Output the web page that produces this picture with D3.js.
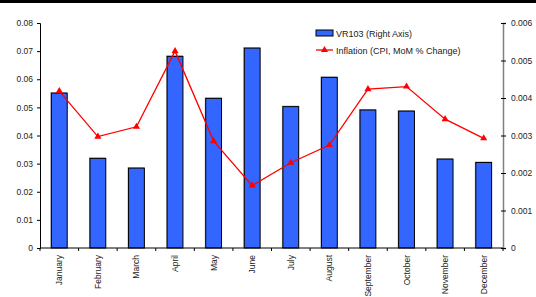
<!DOCTYPE html>
<html lang="en">
<head>
    <meta charset="UTF-8">
    <title>VR103 vs Inflation</title>
    <style>
        body { margin: 0; background: #fff; }
        svg text { font-family: "Liberation Sans", Arial, sans-serif; fill: #222; }
    </style>
</head>
<body>
    <script src="https://d3js.org/d3.v7.min.js"></script>
    <script>
// data
const months = ["January", "February", "March", "April", "May", "June",
    "July", "August", "September", "October", "November", "December"];
const vr103 = [0.00413, 0.00239, 0.00213, 0.00511, 0.00399, 0.00533,
    0.00377, 0.00455, 0.00368, 0.00365, 0.00237, 0.00228];
const inflation = [0.0558, 0.0396, 0.0431, 0.0700, 0.0380, 0.0222,
    0.0303, 0.0366, 0.0565, 0.0574, 0.0458, 0.0390];
const leftTicks = [0, 0.01, 0.02, 0.03, 0.04, 0.05, 0.06, 0.07, 0.08];
const rightTicks = [0, 0.001, 0.002, 0.003, 0.004, 0.005, 0.006];

const width = 536, height = 297;
const margin = {top: 23, right: 33, bottom: 49, left: 40};

const svg = d3.select("body").append("svg")
    .attr("width", width)
    .attr("height", height);

// black band across the top
svg.append("rect")
    .attr("x", 0).attr("y", 0)
    .attr("width", width).attr("height", 3)
    .attr("fill", "#000");

const x = d3.scaleBand()
    .domain(months)
    .range([margin.left, width - margin.right]);

const yLeft = d3.scaleLinear()
    .domain([0, 0.08])
    .range([height - margin.bottom, margin.top]);

const yRight = d3.scaleLinear()
    .domain([0, 0.006])
    .range([height - margin.bottom, margin.top]);

const barW = x.bandwidth() * 0.41;

// bars (right axis) with a faint shadow
svg.append("g").selectAll("rect.shadow")
    .data(vr103)
    .join("rect")
    .attr("x", (d, i) => x(months[i]) + (x.bandwidth() - barW) / 2 - 1)
    .attr("y", d => yRight(d) - 1)
    .attr("width", barW + 1)
    .attr("height", d => yRight(0) - yRight(d) + 1)
    .attr("fill", "#aaa");

svg.append("g").selectAll("rect.bar")
    .data(vr103)
    .join("rect")
    .attr("x", (d, i) => x(months[i]) + (x.bandwidth() - barW) / 2)
    .attr("y", d => yRight(d))
    .attr("width", barW)
    .attr("height", d => yRight(0) - yRight(d))
    .attr("fill", "#3366ff")
    .attr("stroke", "#000")
    .attr("stroke-width", 1);

// left axis
const gl = svg.append("g")
    .attr("transform", `translate(${margin.left},0)`)
    .call(d3.axisLeft(yLeft).tickValues(leftTicks).tickSize(3).tickPadding(4)
        .tickFormat(d => d === 0 ? "0" : d3.format(".2f")(d)));
gl.select(".domain").attr("stroke", "#000");
gl.selectAll("text").attr("font-size", 8.5);

// right axis (grey)
const gr = svg.append("g")
    .attr("transform", `translate(${width - margin.right},0)`)
    .call(d3.axisRight(yRight).tickValues(rightTicks).tickSize(3).tickPadding(5)
        .tickFormat(d => d === 0 ? "0" : d3.format(".3f")(d)));
gr.select(".domain").attr("stroke", "#808080").attr("stroke-width", 1.5);
gr.selectAll(".tick line").attr("x1", -2).attr("stroke", "#000");
gr.selectAll("text").attr("font-size", 8.5);

// bottom axis, ticks between categories
const gb = svg.append("g")
    .attr("transform", `translate(0,${height - margin.bottom})`);
gb.append("line")
    .attr("x1", margin.left).attr("x2", width - margin.right)
    .attr("stroke", "#000");
gb.selectAll("line.tk")
    .data(d3.range(months.length + 1))
    .join("line")
    .attr("x1", i => margin.left + i * x.step())
    .attr("x2", i => margin.left + i * x.step())
    .attr("y1", 0).attr("y2", 3)
    .attr("stroke", "#000");
gb.selectAll("text")
    .data(months)
    .join("text")
    .attr("transform", d => `translate(${x(d) + x.bandwidth() / 2 + 3},7) rotate(-90)`)
    .attr("text-anchor", "end")
    .attr("font-size", 8.5)
    .text(d => d);

// inflation line (left axis)
const line = d3.line()
    .x((d, i) => x(months[i]) + x.bandwidth() / 2)
    .y(d => yLeft(d));

svg.append("path")
    .datum(inflation)
    .attr("d", line)
    .attr("fill", "none")
    .attr("stroke", "#ff0000")
    .attr("stroke-width", 1.3);

const tri = d3.symbol().type(d3.symbolTriangle).size(22);
svg.append("g").selectAll("path")
    .data(inflation)
    .join("path")
    .attr("transform", (d, i) => `translate(${x(months[i]) + x.bandwidth() / 2},${yLeft(d)})`)
    .attr("d", tri)
    .attr("fill", "#ff0000");

// legend
const lg = svg.append("g").attr("transform", "translate(316,30)");
lg.append("rect")
    .attr("x", 0).attr("y", 0)
    .attr("width", 17).attr("height", 6)
    .attr("fill", "#3366ff")
    .attr("stroke", "#000");
lg.append("text")
    .attr("x", 20).attr("y", 6.5)
    .attr("font-size", 9)
    .text("VR103 (Right Axis)");
lg.append("line")
    .attr("x1", 0).attr("x2", 17)
    .attr("y1", 20).attr("y2", 20)
    .attr("stroke", "#ff0000")
    .attr("stroke-width", 1.3);
lg.append("path")
    .attr("transform", "translate(8.5,20)")
    .attr("d", tri)
    .attr("fill", "#ff0000");
lg.append("text")
    .attr("x", 20).attr("y", 23.5)
    .attr("font-size", 9)
    .text("Inflation (CPI, MoM % Change)");
    </script>
</body>
</html>
